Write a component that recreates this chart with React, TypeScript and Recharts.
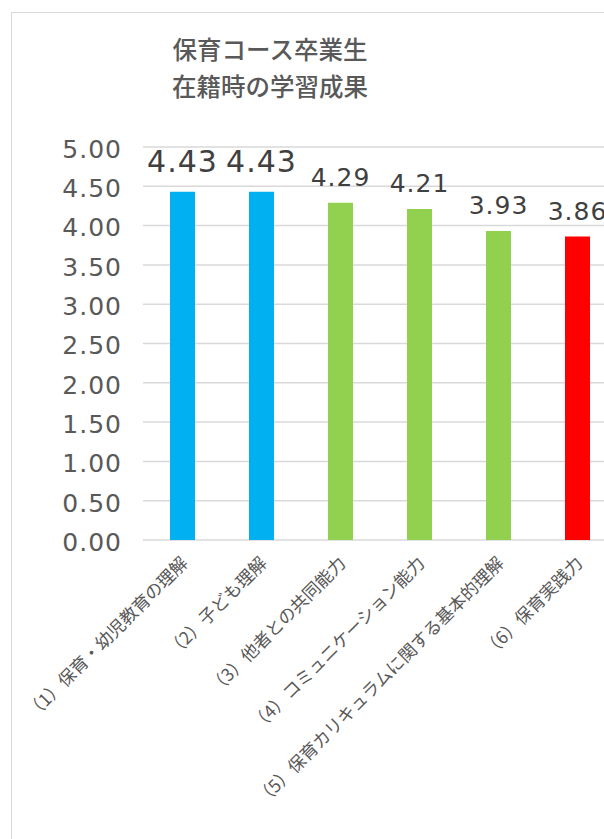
import { BarChart, Bar, XAxis, YAxis, CartesianGrid, Cell, LabelList } from "recharts";

const categories = [
    "（1）保育・幼児教育の理解",
    "（2）子ども理解",
    "（3）他者との共同能力",
    "（4）コミュニケーション能力",
    "（5）保育カリキュラムに関する基本的理解",
    "（6）保育実践力",
];
const scores = [4.43, 4.43, 4.29, 4.21, 3.93, 3.86];
const barColors = ["#00B0F0", "#00B0F0", "#92D050", "#92D050", "#92D050", "#FF0000"];
const emphasized = [true, true, false, false, false, false];
const yTicks = [0, 0.5, 1, 1.5, 2, 2.5, 3, 3.5, 4, 4.5, 5];
const titleLines = ["保育コース卒業生", "在籍時の学習成果"];

const data = categories.map((name, i) => ({ name, score: scores[i] }));

const numFont = "'DejaVu Sans', sans-serif";
const jpFont = "'Noto Sans CJK JP', sans-serif";

// value labels above each bar; the first two are drawn larger
const ValueLabel = (props: any) => {
    const { x, y, width, value, index } = props;
    const big = emphasized[index];
    return (
        <text
            x={x + width / 2}
            y={y - (big ? 20 : 17)}
            textAnchor="middle"
            fill="#404040"
            fontFamily={numFont}
            fontSize={big ? 30 : 25}
            letterSpacing={1}
        >
            {Number(value).toFixed(2)}
        </text>
    );
};

const CategoryTick = (props: any) => {
    const { x, y, payload } = props;
    return (
        <g transform={`translate(${x - 2},${y + 8})`}>
            <text
                x={0}
                y={0}
                dy={12}
                textAnchor="end"
                transform="rotate(-45)"
                fill="#595959"
                fontFamily={jpFont}
                fontSize={17.5}
            >
                {payload.value}
            </text>
        </g>
    );
};

export default function App() {
    return (
        <div
            style={{
                position: "fixed",
                left: 0,
                top: 0,
                width: 604,
                height: 839,
                overflow: "hidden",
                background: "#fff",
            }}
        >
            <div
                style={{
                    position: "absolute",
                    left: 11,
                    top: 12,
                    width: 700,
                    height: 900,
                    border: "1.5px solid #d9d9d9",
                }}
            />
            <div
                style={{
                    position: "absolute",
                    left: 0,
                    top: 30,
                    width: 540,
                    textAlign: "center",
                    fontFamily: jpFont,
                    fontSize: 24.5,
                    fontWeight: 500,
                    lineHeight: "37px",
                    color: "#595959",
                }}
            >
                {titleLines.map((t) => (
                    <div key={t}>{t}</div>
                ))}
            </div>
            <div style={{ position: "absolute", left: 0, top: 0 }}>
                <BarChart
                    width={640}
                    height={839}
                    data={data}
                    margin={{ top: 147, right: 23, left: 0, bottom: 0 }}
                >
                    <CartesianGrid vertical={false} stroke="#d9d9d9" strokeWidth={1.5} />
                    <XAxis
                        dataKey="name"
                        height={299}
                        interval={0}
                        axisLine={false}
                        tickLine={false}
                        tick={<CategoryTick />}
                    />
                    <YAxis
                        width={143}
                        domain={[0, 5]}
                        ticks={yTicks}
                        axisLine={false}
                        tickLine={false}
                        tickMargin={15}
                        tickFormatter={(v: number) => v.toFixed(2)}
                        tick={{ fill: "#595959", fontSize: 25, fontFamily: numFont, letterSpacing: 1, dy: 2 }}
                    />
                    <Bar dataKey="score" barSize={25} isAnimationActive={false}>
                        {data.map((d, i) => (
                            <Cell key={d.name} fill={barColors[i]} />
                        ))}
                        <LabelList dataKey="score" content={<ValueLabel />} />
                    </Bar>
                </BarChart>
            </div>
        </div>
    );
}
